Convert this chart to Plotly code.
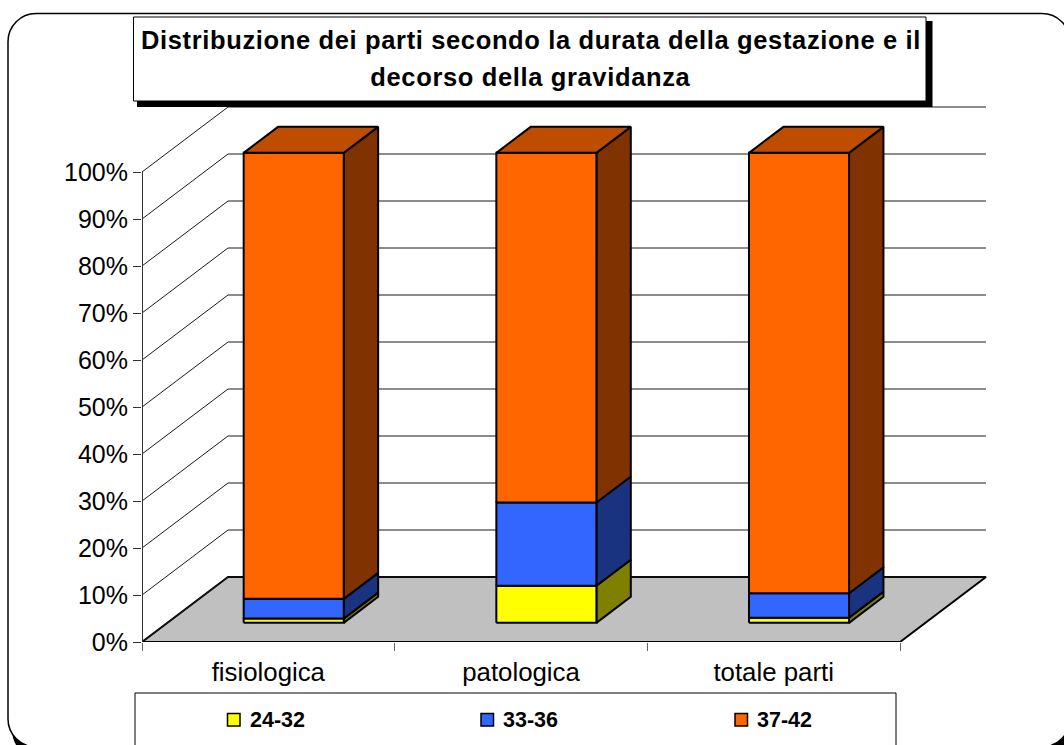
import plotly.graph_objects as go

categories = ["fisiologica", "patologica", "totale parti"]
series_names = ["24-32", "33-36", "37-42"]
v_24_32 = [0.9, 7.9, 1.1]
v_33_36 = [4.2, 17.7, 5.2]
v_37_42 = [94.9, 74.4, 93.7]
series_values = [v_24_32, v_33_36, v_37_42]
front_colors = ["#FFFF00", "#3366FF", "#FF6600"]
side_colors = ["#808000", "#1A3380", "#803300"]
top_color = "#BF4D00"
y_ticks = list(range(0, 101, 10))

W, H = 1064, 745
AX_L, AX_R, AX_T, AX_B = 142, 900, 172, 642
PX_PER_CAT = (AX_R - AX_L) / 3
PX_PER_PCT = (AX_B - AX_T) / 100
DX = 86 / PX_PER_CAT      # oblique depth in category units
DY = 65 / PX_PER_PCT      # oblique depth in percent units
XMAX = 3 + DX + 0.02
YMAX = 100 + DY + 1
BAR_W, D0, D1 = 0.396, 0.295, 0.695


def proj(x, y, d):
    return x + d * DX, y + d * DY


def polys(list_of_pts):
    xs, ys = [], []
    for pts in list_of_pts:
        for p in pts + [pts[0]]:
            xs.append(p[0])
            ys.append(p[1])
        xs.append(None)
        ys.append(None)
    return xs, ys


def face(pts_list, fill, lw=2, color="#000000", name=None):
    xs, ys = polys(pts_list)
    return go.Scatter(x=xs, y=ys, mode="lines", fill="toself", fillcolor=fill,
                      line=dict(color=color, width=lw), cliponaxis=False,
                      hoverinfo="skip", showlegend=False, name=name)


def ppx(x):
    return x / W


def ppy(y):
    return 1 - y / H


fig = go.Figure()

# floor
floor = [proj(0, 0, 0), proj(3, 0, 0), proj(3, 0, 1), proj(0, 0, 1)]
fig.add_trace(face([floor], "#C0C0C0", lw=2, name="floor"))

# back wall grid lines
gx, gy = [], []
for t in y_ticks:
    for p in [proj(0, t, 0), proj(0, t, 1), proj(3, t, 1)]:
        gx.append(p[0])
        gy.append(p[1])
    gx.append(None)
    gy.append(None)
fig.add_trace(go.Scatter(x=gx, y=gy, mode="lines", line=dict(color="#1a1a1a", width=1),
                         hoverinfo="skip", showlegend=False))

# value axis line
fig.add_trace(go.Scatter(x=[0, 0], y=[0, 100], mode="lines",
                         line=dict(color="#333333", width=2),
                         hoverinfo="skip", showlegend=False))

# stacked 3-D columns
bottoms = [0.0, 0.0, 0.0]
for s, name in enumerate(series_names):
    fronts, sides, tops = [], [], []
    for i in range(len(categories)):
        lo = bottoms[i]
        hi = lo + series_values[s][i]
        bottoms[i] = hi
        xl = i + 0.5 - BAR_W / 2
        xr = i + 0.5 + BAR_W / 2
        fronts.append([proj(xl, lo, D0), proj(xr, lo, D0), proj(xr, hi, D0), proj(xl, hi, D0)])
        sides.append([proj(xr, lo, D0), proj(xr, lo, D1), proj(xr, hi, D1), proj(xr, hi, D0)])
        tops.append([proj(xl, hi, D0), proj(xr, hi, D0), proj(xr, hi, D1), proj(xl, hi, D1)])
    fig.add_trace(face(sides, side_colors[s], name=name))
    fig.add_trace(face(fronts, front_colors[s], name=name))
    if s == len(series_names) - 1:
        fig.add_trace(face(tops, top_color, name=name))


def rrect(x0, y0, x1, y1, r):
    k = r * 0.45
    pts = [
        f"M{ppx(x0)},{ppy(y0 + r)}",
        f"C{ppx(x0)},{ppy(y0 + k)} {ppx(x0 + k)},{ppy(y0)} {ppx(x0 + r)},{ppy(y0)}",
        f"L{ppx(x1 - r)},{ppy(y0)}",
        f"C{ppx(x1 - k)},{ppy(y0)} {ppx(x1)},{ppy(y0 + k)} {ppx(x1)},{ppy(y0 + r)}",
        f"L{ppx(x1)},{ppy(y1 - r)}",
        f"C{ppx(x1)},{ppy(y1 - k)} {ppx(x1 - k)},{ppy(y1)} {ppx(x1 - r)},{ppy(y1)}",
        f"L{ppx(x0 + r)},{ppy(y1)}",
        f"C{ppx(x0 + k)},{ppy(y1)} {ppx(x0)},{ppy(y1 - k)} {ppx(x0)},{ppy(y1 - r)}",
        "Z",
    ]
    return " ".join(pts)


def box(x0, y0, x1, y1, fill, line="#000000", lw=1, layer="above"):
    return dict(type="rect", xref="paper", yref="paper", x0=ppx(x0), x1=ppx(x1),
                y0=ppy(y1), y1=ppy(y0), fillcolor=fill,
                line=dict(color=line, width=lw), layer=layer)


shapes = [
    # slide frame and its heavy shadow
    dict(type="path", xref="paper", yref="paper", path=rrect(12, 17, 1076, 760, 30),
         fillcolor="#000000", line=dict(width=0), layer="below"),
    dict(type="path", xref="paper", yref="paper", path=rrect(8, 13.5, 1070, 747, 28),
         fillcolor="#FFFFFF", line=dict(color="#000000", width=1.5), layer="below"),
    # title box
    box(137, 21, 932.5, 107, "#000000", lw=0),
    box(133.5, 17, 926, 101, "#FFFFFF"),
    # legend box
    box(135, 693, 896, 760, "#FFFFFF"),
]

legend_x = [227.5, 481, 735]
annotations = []
for s, name in enumerate(series_names):
    shapes.append(box(legend_x[s], 713.5, legend_x[s] + 12.5, 726, front_colors[s], lw=1.5))
    annotations.append(dict(xref="paper", yref="paper", x=ppx(legend_x[s] + 20), y=ppy(719.5),
                            text=name, showarrow=False, xanchor="left", yanchor="middle",
                            font=dict(size=21.5, color="#000000",
                                      family="Liberation Sans", weight="bold")))

title_font = dict(size=25.5, color="#000000", family="Liberation Sans", weight="bold")
annotations.append(dict(xref="paper", yref="paper", x=ppx(531), y=ppy(77),
                        text="decorso della gravidanza", showarrow=False, xanchor="center",
                        yanchor="middle", font=title_font))

fig.update_layout(
    width=W, height=H,
    margin=dict(l=0, r=0, t=0, b=0, autoexpand=False),
    paper_bgcolor="#FFFFFF",
    plot_bgcolor="rgba(0,0,0,0)",
    showlegend=False,
    font=dict(family="Liberation Sans", color="#000000"),
    title=dict(text="Distribuzione dei parti secondo la durata della gestazione e il",
               font=title_font, x=531 / W, xanchor="center", xref="paper",
               y=ppy(40), yanchor="middle", yref="paper"),
    xaxis=dict(domain=[AX_L / W, (AX_L + XMAX * PX_PER_CAT) / W], range=[0, XMAX],
               automargin=False, showgrid=False, zeroline=False,
               tickmode="array", tickvals=[0.5, 1.5, 2.5], ticktext=categories,
               ticks="", showline=False, ticklabelstandoff=12,
               tickfont=dict(size=25.8, color="#000000", family="Liberation Sans"),
               minor=dict(tickmode="array", tickvals=[0, 1, 2, 3], ticks="outside",
                          ticklen=8, tickcolor="#666666", tickwidth=1.3, showgrid=False)),
    yaxis=dict(domain=[1 - AX_B / H, 1 - (AX_B - YMAX * PX_PER_PCT) / H], range=[0, YMAX],
               automargin=False, showgrid=False,
               zeroline=False, tickmode="array", tickvals=y_ticks,
               ticktext=[f"{t}%" for t in y_ticks],
               ticks="outside", ticklen=8, tickcolor="#333333", tickwidth=1,
               showline=False,
               tickfont=dict(size=25, color="#000000", family="Liberation Sans")),
    shapes=shapes,
    annotations=annotations,
)

post = """
document.body.style.margin='0';
document.documentElement.style.overflow='hidden';
document.querySelectorAll('.gtitle, .annotation-text').forEach(function (n) {
  if (n.textContent.indexOf('d') === 0 || n.textContent.indexOf('D') === 0) {
    n.style.letterSpacing = '0.64px';
  }
});
"""
fig.write_html("out.html", config={"displayModeBar": False}, post_script=post)
